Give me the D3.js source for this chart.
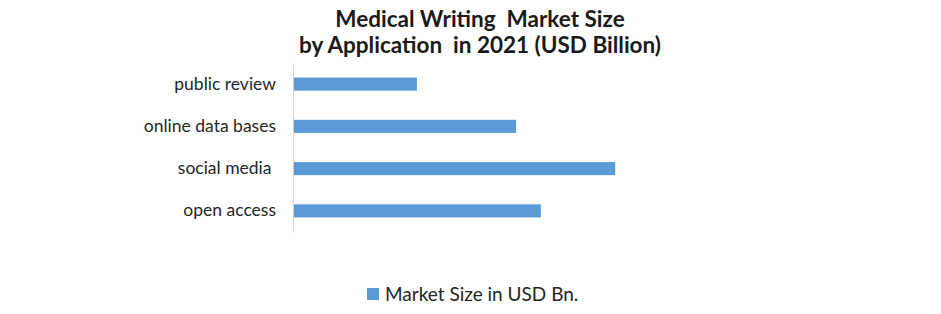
<!DOCTYPE html>
<html lang="en">
  <head>
    <meta charset="utf-8">
    <title>Medical Writing Market Size</title>
    <script src="https://cdnjs.cloudflare.com/ajax/libs/d3/7.8.5/d3.min.js"></script>
    <style>
      body { margin: 0; background: #fff; font-family: "Lato", "Open Sans", sans-serif; }
      text { white-space: pre; }
    </style>
  </head>
  <body>
    <script>
    const categories = ["public review", "online data bases", "social media ", "open access"];
    const values = [0.5, 0.9, 1.3, 1.0];
    const titleLines = ["Medical Writing  Market Size", "by Application  in 2021 (USD Billion)"];
    const seriesName = "Market Size in USD Bn.";

    const w = 941, h = 314;
    const plotLeft = 293, plotTop = 63, plotBottom = 232;

    const svg = d3.select("body").append("svg")
        .attr("width", w)
        .attr("height", h);

    const xScale = d3.scaleLinear()
        .domain([0, 1.4])
        .range([plotLeft, 640]);

    const yScale = d3.scaleBand()
        .domain(categories)
        .range([plotTop, plotBottom])
        .paddingInner(0.69)
        .paddingOuter(0.345);

    // title
    svg.append("text")
       .attr("x", 480)
       .attr("y", 27)
       .attr("text-anchor", "middle")
       .style("font-size", "22.5px")
       .style("font-weight", "bold")
       .style("fill", "#1a1a1a")
       .selectAll("tspan")
       .data(titleLines)
       .enter()
       .append("tspan")
       .attr("x", 480)
       .attr("dy", (d, i) => i === 0 ? 0 : 26)
       .text(d => d);

    svg.selectAll("rect.bar")
       .data(values)
       .enter()
       .append("rect")
       .attr("class", "bar")
       .attr("x", xScale(0))
       .attr("y", (d, i) => yScale(categories[i]))
       .attr("width", d => xScale(d) - xScale(0))
       .attr("height", yScale.bandwidth())
       .attr("fill", "#5b9bd5");

    const yAxis = d3.axisLeft(yScale).tickSize(0).tickPadding(17);
    const gy = svg.append("g")
       .attr("transform", "translate(" + plotLeft + ",0)")
       .call(yAxis);
    gy.select(".domain").attr("stroke", "#d0d0d0");
    gy.selectAll("text")
      .style("font-family", "Lato, sans-serif")
      .style("font-size", "17.5px")
      .style("fill", "#262626");

    // legend
    const lg = svg.append("g").attr("transform", "translate(367,288)");
    lg.append("rect")
      .attr("width", 12)
      .attr("height", 12)
      .attr("fill", "#5b9bd5");
    lg.append("text")
      .attr("x", 18)
      .attr("y", 12.5)
      .style("font-size", "19px")
      .style("fill", "#262626")
      .text(seriesName);
    </script>
  </body>
</html>
